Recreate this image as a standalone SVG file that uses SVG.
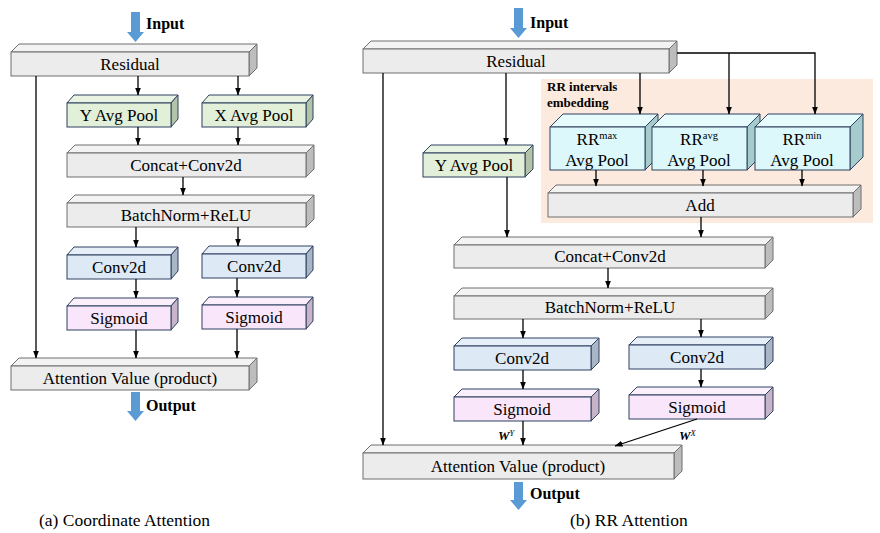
<svg xmlns="http://www.w3.org/2000/svg" width="880" height="533" viewBox="0 0 880 533">
<defs>
<marker id="ah" markerUnits="userSpaceOnUse" markerWidth="8" markerHeight="7" refX="7.5" refY="3" orient="auto">
<path d="M0,0 L8,3 L0,6 z" fill="#000"/>
</marker>
<style>
text{font-family:"Liberation Serif","Times New Roman",serif;fill:#000}
.lbl{font-size:17px;text-anchor:middle}
.b{font-weight:bold;font-size:16px}
.cap{font-size:17.5px}
.conn line,.conn polyline{stroke:#000;stroke-width:1.3;fill:none}
.ar{marker-end:url(#ah)}
.gf{fill:#ececec;stroke:#6f6f6f;stroke-width:1}
.gt{fill:#f3f3f3;stroke:#6f6f6f;stroke-width:1}
.gs{fill:#bdbdbd;stroke:#6f6f6f;stroke-width:1}
.nf{fill:#e2efd9;stroke:#2f4160;stroke-width:1}
.nt{fill:#e9f3e2;stroke:#2f4160;stroke-width:1}
.ns{fill:#b3c3a8;stroke:#2f4160;stroke-width:1}
.bf{fill:#dde9f5;stroke:#2f4160;stroke-width:1}
.bt{fill:#e6eff8;stroke:#2f4160;stroke-width:1}
.bs{fill:#a9b6c5;stroke:#2f4160;stroke-width:1}
.pf{fill:#f9e6fa;stroke:#2f4160;stroke-width:1}
.pt{fill:#fbeffc;stroke:#2f4160;stroke-width:1}
.ps{fill:#c7b4c9;stroke:#2f4160;stroke-width:1}
.cf{fill:#dcf8fa;stroke:#2f4160;stroke-width:1}
.ct{fill:#e6fbfc;stroke:#2f4160;stroke-width:1}
.cs{fill:#a6cbcc;stroke:#2f4160;stroke-width:1}
.blue{fill:#5b9bd5}
.w{font-weight:bold;font-style:italic;font-size:13px}
</style>
</defs>
<rect width="880" height="533" fill="#fff"/>

<!-- orange background -->
<rect id="rr-embedding-bg" x="541" y="79" width="332" height="144" fill="#fdeade"/>
<text x="547" y="91" style="font-weight:bold;font-size:13px">RR intervals</text>
<text x="547" y="107" style="font-weight:bold;font-size:13px">embedding</text>

<!-- ===== Left panel ===== -->
<g id="a-input">
<path class="blue" d="M131,12 H140 V32 H144 L135.5,42 L127,32 H131 z"/>
<text class="b" x="146" y="29">Input</text>
</g>
<g id="a-residual">
<polygon class="gt" points="11,52 19,44 257,44 249,52"/>
<polygon class="gs" points="249,52 257,44 257,68 249,76"/>
<rect class="gf" x="11" y="52" width="238" height="24"/>
<text class="lbl" x="130" y="70">Residual</text>
</g>
<g id="a-yavg">
<polygon class="nt" points="67,103 74,95 178,95 171,103"/>
<polygon class="ns" points="171,103 178,95 178,119 171,127"/>
<rect class="nf" x="67" y="103" width="104" height="24"/>
<text class="lbl" x="119" y="121">Y Avg Pool</text>
</g>
<g id="a-xavg">
<polygon class="nt" points="202,103 209,95 313,95 306,103"/>
<polygon class="ns" points="306,103 313,95 313,119 306,127"/>
<rect class="nf" x="202" y="103" width="104" height="24"/>
<text class="lbl" x="254" y="121">X Avg Pool</text>
</g>
<g id="a-concat">
<polygon class="gt" points="67,153 75,145 314,145 306,153"/>
<polygon class="gs" points="306,153 314,145 314,169 306,177"/>
<rect class="gf" x="67" y="153" width="239" height="24"/>
<text class="lbl" x="186" y="171">Concat+Conv2d</text>
</g>
<g id="a-bn">
<polygon class="gt" points="67,203 75,195 314,195 306,203"/>
<polygon class="gs" points="306,203 314,195 314,219 306,227"/>
<rect class="gf" x="67" y="203" width="239" height="24"/>
<text class="lbl" x="186" y="221">BatchNorm+ReLU</text>
</g>
<g id="a-conv-l">
<polygon class="bt" points="67,255 74,247 178,247 171,255"/>
<polygon class="bs" points="171,255 178,247 178,271 171,279"/>
<rect class="bf" x="67" y="255" width="104" height="24"/>
<text class="lbl" x="119" y="273">Conv2d</text>
</g>
<g id="a-conv-r">
<polygon class="bt" points="202,254 209,246 313,246 306,254"/>
<polygon class="bs" points="306,254 313,246 313,270 306,278"/>
<rect class="bf" x="202" y="254" width="104" height="24"/>
<text class="lbl" x="254" y="272">Conv2d</text>
</g>
<g id="a-sig-l">
<polygon class="pt" points="67,306 74,298 178,298 171,306"/>
<polygon class="ps" points="171,306 178,298 178,322 171,330"/>
<rect class="pf" x="67" y="306" width="104" height="24"/>
<text class="lbl" x="119" y="324">Sigmoid</text>
</g>
<g id="a-sig-r">
<polygon class="pt" points="202,305 209,297 313,297 306,305"/>
<polygon class="ps" points="306,305 313,297 313,321 306,329"/>
<rect class="pf" x="202" y="305" width="104" height="24"/>
<text class="lbl" x="254" y="323">Sigmoid</text>
</g>
<g id="a-attn">
<polygon class="gt" points="11,366 19,358 257,358 249,366"/>
<polygon class="gs" points="249,366 257,358 257,382 249,390"/>
<rect class="gf" x="11" y="366" width="238" height="24"/>
<text class="lbl" x="130" y="384">Attention Value (product)</text>
</g>
<g id="a-output">
<path class="blue" d="M131,392 H140 V411 H144 L135.5,421 L127,411 H131 z"/>
<text class="b" x="146" y="411">Output</text>
</g>
<text class="cap" x="39" y="526">(a) Coordinate Attention</text>

<!-- ===== Right panel ===== -->
<g id="b-input">
<path class="blue" d="M514,8 H523 V28 H527 L518.5,38 L510,28 H514 z"/>
<text class="b" x="530" y="28">Input</text>
</g>
<g id="b-residual">
<polygon class="gt" points="363,49 371,41 677,41 669,49"/>
<polygon class="gs" points="669,49 677,41 677,65 669,73"/>
<rect class="gf" x="363" y="49" width="306" height="24"/>
<text class="lbl" x="516" y="67">Residual</text>
</g>
<g id="b-yavg">
<polygon class="nt" points="423,153 431,145 533,145 525,153"/>
<polygon class="ns" points="525,153 533,145 533,169 525,177"/>
<rect class="nf" x="423" y="153" width="102" height="24"/>
<text class="lbl" x="474" y="171">Y Avg Pool</text>
</g>
<g id="b-rrmax">
<polygon class="ct" points="550,127 563,114 658,114 645,127"/>
<polygon class="cs" points="645,127 658,114 658,157 645,170"/>
<rect class="cf" x="550" y="127" width="95" height="43"/>
<text class="lbl" x="597" y="145">RR<tspan font-size="10.5" dy="-6">max</tspan></text>
<text class="lbl" x="597" y="166">Avg Pool</text>
</g>
<g id="b-rravg">
<polygon class="ct" points="652,127 665,114 760,114 747,127"/>
<polygon class="cs" points="747,127 760,114 760,157 747,170"/>
<rect class="cf" x="652" y="127" width="95" height="43"/>
<text class="lbl" x="699" y="145">RR<tspan font-size="10.5" dy="-6">avg</tspan></text>
<text class="lbl" x="699" y="166">Avg Pool</text>
</g>
<g id="b-rrmin">
<polygon class="ct" points="755,127 768,114 863,114 850,127"/>
<polygon class="cs" points="850,127 863,114 863,157 850,170"/>
<rect class="cf" x="755" y="127" width="95" height="43"/>
<text class="lbl" x="802" y="145">RR<tspan font-size="10.5" dy="-6">min</tspan></text>
<text class="lbl" x="802" y="166">Avg Pool</text>
</g>
<g id="b-add">
<polygon class="gt" points="548,193 556,185 861,185 853,193"/>
<polygon class="gs" points="853,193 861,185 861,209 853,217"/>
<rect class="gf" x="548" y="193" width="305" height="24"/>
<text class="lbl" x="700" y="211">Add</text>
</g>
<g id="b-concat">
<polygon class="gt" points="454,245 462,237 773,237 765,245"/>
<polygon class="gs" points="765,245 773,237 773,260 765,268"/>
<rect class="gf" x="454" y="245" width="311" height="23"/>
<text class="lbl" x="610" y="262">Concat+Conv2d</text>
</g>
<g id="b-bn">
<polygon class="gt" points="454,296 462,288 773,288 765,296"/>
<polygon class="gs" points="765,296 773,288 773,311 765,319"/>
<rect class="gf" x="454" y="296" width="311" height="23"/>
<text class="lbl" x="610" y="313">BatchNorm+ReLU</text>
</g>
<g id="b-conv-l">
<polygon class="bt" points="454,346 462,338 599,338 591,346"/>
<polygon class="bs" points="591,346 599,338 599,362 591,370"/>
<rect class="bf" x="454" y="346" width="137" height="24"/>
<text class="lbl" x="522" y="364">Conv2d</text>
</g>
<g id="b-conv-r">
<polygon class="bt" points="629,345 637,337 773,337 765,345"/>
<polygon class="bs" points="765,345 773,337 773,361 765,369"/>
<rect class="bf" x="629" y="345" width="136" height="24"/>
<text class="lbl" x="697" y="363">Conv2d</text>
</g>
<g id="b-sig-l">
<polygon class="pt" points="454,397 462,389 599,389 591,397"/>
<polygon class="ps" points="591,397 599,389 599,413 591,421"/>
<rect class="pf" x="454" y="397" width="137" height="24"/>
<text class="lbl" x="522" y="415">Sigmoid</text>
</g>
<g id="b-sig-r">
<polygon class="pt" points="629,395 637,387 773,387 765,395"/>
<polygon class="ps" points="765,395 773,387 773,411 765,419"/>
<rect class="pf" x="629" y="395" width="136" height="24"/>
<text class="lbl" x="697" y="413">Sigmoid</text>
</g>
<g id="b-attn">
<polygon class="gt" points="363,453 371,445 682,445 674,453"/>
<polygon class="gs" points="674,453 682,445 682,471 674,479"/>
<rect class="gf" x="363" y="453" width="311" height="26"/>
<text class="lbl" x="518" y="472">Attention Value (product)</text>
</g>
<g id="b-output">
<path class="blue" d="M514,482 H523 V500 H527 L518.5,510 L510,500 H514 z"/>
<text class="b" x="530" y="499">Output</text>
</g>
<text class="cap" x="570" y="526">(b) RR Attention</text>

<!-- connectors -->
<g id="connectors" class="conn">
<line class="ar" x1="138" y1="76" x2="138" y2="95"/>
<line class="ar" x1="238" y1="76" x2="238" y2="95"/>
<line class="ar" x1="138" y1="127" x2="138" y2="145"/>
<line class="ar" x1="238" y1="127" x2="238" y2="145"/>
<line class="ar" x1="183" y1="177" x2="183" y2="195"/>
<line class="ar" x1="136" y1="227" x2="136" y2="247"/>
<line class="ar" x1="238" y1="227" x2="238" y2="246"/>
<line class="ar" x1="136" y1="279" x2="136" y2="298"/>
<line class="ar" x1="237" y1="278" x2="237" y2="297"/>
<line class="ar" x1="136" y1="330" x2="136" y2="358"/>
<line class="ar" x1="237" y1="329" x2="237" y2="358"/>
<line class="ar" x1="36" y1="76" x2="36" y2="358"/>

<line class="ar" x1="383" y1="73" x2="383" y2="445"/>
<line class="ar" x1="506" y1="73" x2="506" y2="145"/>
<line class="ar" x1="640" y1="73" x2="640" y2="114"/>
<polyline class="ar" points="677,53 815,53 815,114"/>
<line class="ar" x1="729" y1="53" x2="729" y2="114"/>
<line class="ar" x1="596" y1="170" x2="596" y2="186"/>
<line class="ar" x1="703" y1="170" x2="703" y2="186"/>
<line class="ar" x1="802" y1="170" x2="802" y2="186"/>
<line class="ar" x1="507" y1="177" x2="507" y2="237"/>
<line class="ar" x1="701" y1="217" x2="701" y2="237"/>
<line class="ar" x1="608" y1="268" x2="608" y2="288"/>
<line class="ar" x1="523" y1="319" x2="523" y2="338"/>
<line class="ar" x1="701" y1="319" x2="701" y2="337"/>
<line class="ar" x1="523" y1="370" x2="523" y2="389"/>
<line class="ar" x1="701" y1="369" x2="701" y2="387"/>
<line class="ar" x1="523" y1="421" x2="523" y2="445"/>
<line class="ar" x1="697" y1="419" x2="615" y2="446"/>
</g>
<text class="w" x="498" y="440">W<tspan font-size="8.5" font-weight="normal" dy="-4">Y</tspan></text>
<text class="w" x="679" y="440">W<tspan font-size="8.5" font-weight="normal" dy="-4">X</tspan></text>
</svg>
